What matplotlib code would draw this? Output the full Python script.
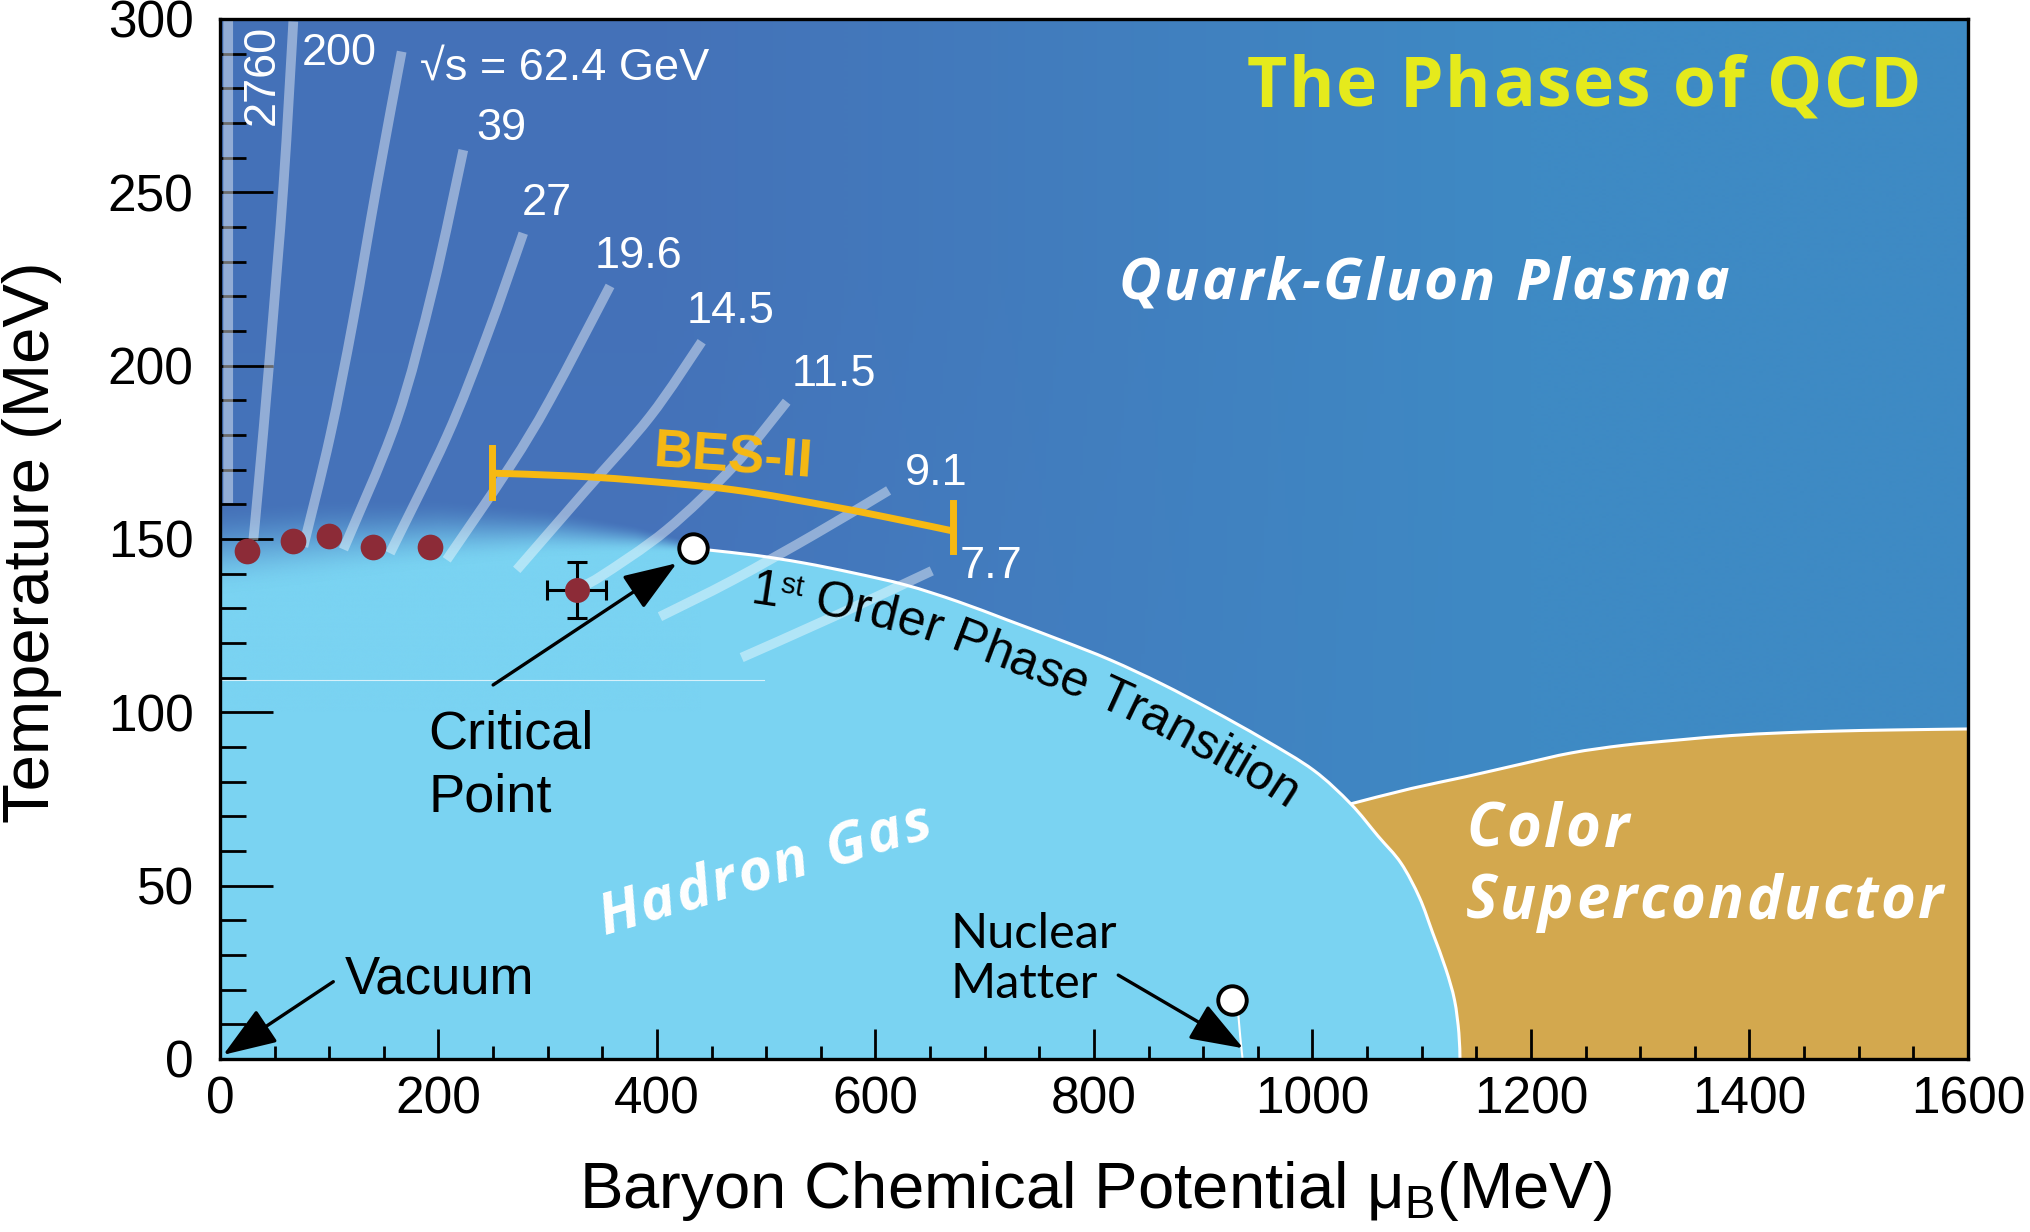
import numpy as np
import matplotlib
matplotlib.use('Agg')
import matplotlib.pyplot as plt
from matplotlib.patches import PathPatch
from matplotlib.path import Path
from matplotlib.font_manager import FontProperties
from matplotlib.transforms import IdentityTransform

plt.rcParams['font.family'] = ['Liberation Sans', 'DejaVu Sans']
plt.rcParams['mathtext.fontset'] = 'custom'
plt.rcParams['mathtext.rm'] = 'Liberation Sans'

# phase boundary hadron gas | QGP / CSC (from the critical point down to T = 0)
boundary_mu = [434, 448, 490, 534, 580, 628, 675, 721, 768, 815, 862, 908, 955,
               1001, 1035, 1060, 1081, 1098, 1110, 1122, 1130, 1134, 1135]
boundary_T = [147.5, 146.8, 145.3, 143.1, 140.2, 136.7, 132.0, 126.6, 121.0, 115.1,
              108.2, 100.6, 92.3, 83.3, 73.6, 64.3, 56.5, 46.5, 36.4, 26.0, 17.0, 7.5, 0]

# colour superconductor | QGP boundary
csc_mu = [1035, 1090, 1140, 1190, 1237, 1285, 1334, 1383, 1431, 1480, 1528, 1600]
csc_T = [73.6, 78.0, 81.4, 85.0, 88.3, 90.5, 92.0, 93.3, 94.1, 94.6, 94.9, 95.2]

# crossover band: centre and half width
cross_mu = [0, 100, 200, 300, 380, 434]
cross_T = [147, 150, 152, 152, 150, 147.5]
cross_w = [13, 12, 10, 7, 4, 1.5]

# chemical freeze-out points
freeze_mu = [24.4, 66.5, 100.0, 140.3, 192.2]
freeze_T = [146.4, 149.4, 150.9, 147.8, 147.8]
ep_mu, ep_T, ep_xerr, ep_yerr = 326.5, 135.3, 27, 8.2

crit_mu, crit_T = 433, 147.3
nuc_mu, nuc_T = 926, 17
nuc_line_mu = [932, 934, 936]
nuc_line_T = [13.2, 6, 0]

# beam energy trajectories
energy_labels = ['2760', '200', '√s = 62.4 GeV', '39', '27', '19.6', '14.5', '11.5', '9.1', '7.7']
traj_mu = [
    [7.5, 7.5],
    [67.1, 58.0, 45.8, 35.1, 30.5],
    [166.3, 143.4, 122.0, 100.7, 76.3],
    [222.7, 195.3, 161.7, 113.0],
    [277.6, 244.1, 207.5, 155.6],
    [357.0, 302.0, 265.4, 207.5],
    [440.9, 393.6, 332.5, 271.6],
    [518.7, 469.8, 408.8, 347.8, 329.5],
    [612.0, 546.2, 469.8, 402.7],
    [651.5, 561.5, 477.5],
]
traj_T = [
    [299.7, 160.4],
    [299.3, 251.7, 203.6, 165.1, 149.7],
    [290.6, 251.7, 213.2, 179.5, 147.8],
    [262.2, 222.8, 184.3, 147.0],
    [238.2, 208.4, 179.5, 145.9],
    [223.0, 190.1, 170.9, 144.0],
    [206.9, 185.3, 163.2, 141.1],
    [189.6, 170.9, 152.6, 139.1, 136.3],
    [164.0, 151.7, 138.2, 127.6],
    [140.8, 127.6, 115.8],
]
label_mu = [48.8, 74.8, 183, 235, 276, 343.2, 427.2, 523.3, 627, 677]
label_T = [269.5, 286.8, 282.4, 265.1, 243.5, 228.1, 212.2, 194.0, 165.6, 138.7]

# BES-II range
bes_mu = [249, 320, 378.3, 469.8, 561.4, 622.4, 671]
bes_T = [169.0, 168.2, 167.0, 164.2, 159.3, 155.5, 152.3]
bes_caps_mu = [249, 671]
bes_caps_T = [(162.2, 176.2), (146.4, 160.3)]

qgp_left = np.array([70, 116, 188]) / 255
qgp_right = np.array([62, 138, 196]) / 255
hg_color = '#7AD3F2'
csc_color = '#D3A84E'
dot_color = '#8C2B37'
bes_color = '#F7B912'


def smooth_segments(x, y):
    # Catmull-Rom through the read points, as cubic Bezier pieces
    P = np.column_stack([x, y]).astype(float)
    n = len(P)
    segs = []
    for i in range(n - 1):
        p0 = P[max(i - 1, 0)]
        p3 = P[min(i + 2, n - 1)]
        segs.append((P[i], P[i] + (P[i + 1] - p0) / 6, P[i + 1] - (p3 - P[i]) / 6, P[i + 1]))
    return segs


def segs_path(segs):
    verts = [segs[0][0]]
    codes = [Path.MOVETO]
    for a, c1, c2, b in segs:
        verts += [c1, c2, b]
        codes += [Path.CURVE4] * 3
    return verts, codes


def smooth_line(ax, x, y, **kw):
    v, c = segs_path(smooth_segments(x, y))
    ax.add_patch(PathPatch(Path(v, c), fill=False, **kw))


def sample_px(ax, segs, n=40):
    out = []
    t = np.linspace(0, 1, n, endpoint=False)[:, None]
    for seg in segs:
        a, c1, c2, b = [ax.transData.transform(p) for p in seg]
        out.append((1 - t) ** 3 * a + 3 * (1 - t) ** 2 * t * c1 + 3 * (1 - t) * t ** 2 * c2 + t ** 3 * b)
    out.append(ax.transData.transform(segs[-1][3])[None, :])
    return np.vstack(out)


def advances(renderer, s, fp):
    hh = renderer.get_text_width_height_descent('HH', fp, ismath=False)[0]
    return [renderer.get_text_width_height_descent('H' + c + 'H', fp, ismath=False)[0] - hh for c in s]


def tracked_text(ax, x, y, s, fp, tracking=0, angle=0, ha='center', **kw):
    renderer = ax.figure.canvas.get_renderer()
    adv = advances(renderer, s, fp)
    total = sum(adv) + tracking * (len(s) - 1)
    x0, y0 = ax.transData.transform((x, y))
    ux, uy = np.cos(np.radians(angle)), np.sin(np.radians(angle))
    pos = -total / 2 if ha == 'center' else 0
    for c, a in zip(s, adv):
        d = pos + a / 2
        ax.text(x0 + d * ux, y0 + d * uy, c, fontproperties=fp, rotation=angle,
                rotation_mode='anchor', ha='center', va='baseline',
                transform=IdentityTransform(), **kw)
        pos += a + tracking


def text_on_curve(ax, segs, pieces, start_mu, offset):
    line = sample_px(ax, segs)
    tan = np.gradient(line, axis=0)
    tan /= np.linalg.norm(tan, axis=1)[:, None]
    nrm = np.column_stack([tan[:, 1], -tan[:, 0]])
    base = line + offset * nrm
    s = np.concatenate([[0], np.cumsum(np.linalg.norm(np.diff(base, axis=0), axis=1))])
    x0 = ax.transData.transform((start_mu, 0))[0]
    pos = s[np.argmin(np.abs(base[:, 0] - x0))]
    renderer = ax.figure.canvas.get_renderer()
    for txt, size, rise in pieces:
        fp = FontProperties(family='Liberation Sans', size=size)
        for c, a in zip(txt, advances(renderer, txt, fp)):
            sc = pos + a / 2
            x = np.interp(sc, s, base[:, 0])
            y = np.interp(sc, s, base[:, 1])
            tx = np.interp(sc, s, tan[:, 0])
            ty = np.interp(sc, s, tan[:, 1])
            ang = np.degrees(np.arctan2(ty, tx))
            ax.text(x - rise * ty, y + rise * tx, c, fontproperties=fp, rotation=ang,
                    rotation_mode='anchor', ha='center', va='baseline',
                    transform=IdentityTransform(), zorder=4)
            pos += a


fig = plt.figure(figsize=(20.31, 12.32), dpi=100)
ax = fig.add_axes([220 / 2031, 1 - 1059 / 1232, 1748 / 2031, 1040 / 1232])
ax.set_xlim(0, 1600)
ax.set_ylim(0, 300)

# backgrounds
bg = np.array([[qgp_left, qgp_right], [qgp_left * 0.98, qgp_right]])
ax.imshow(bg, extent=[0, 1600, 0, 300], origin='lower', aspect='auto',
          interpolation='bilinear', zorder=0)

bsegs = smooth_segments(boundary_mu, boundary_T)
v, c = segs_path(bsegs)
hg_v = [(0, 0), (0, 130), (400, 130), (434, 146)] + v + [(0, 0)]
hg_c = [Path.MOVETO, Path.LINETO, Path.LINETO, Path.LINETO, Path.LINETO] + c[1:] + [Path.CLOSEPOLY]
ax.add_patch(PathPatch(Path(hg_v, hg_c), facecolor=hg_color, edgecolor='none', zorder=1))

csegs = smooth_segments(csc_mu, csc_T)
v, c = segs_path(csegs)
low = [(b, c2, c1, a) for a, c1, c2, b in bsegs[14:]][::-1]
cv = v + [(1600, 0), (1135, 0)]
cc = c + [Path.LINETO, Path.LINETO]
for a, c1, c2, b in low:
    cv += [c1, c2, b]
    cc += [Path.CURVE4] * 3
cv.append((0, 0))
cc.append(Path.CLOSEPOLY)
ax.add_patch(PathPatch(Path(cv, cc), facecolor=csc_color, edgecolor='none', zorder=1))

mu_g = np.linspace(0, 440, 441)
T_g = np.linspace(100, 185, 341)
M, TT = np.meshgrid(mu_g, T_g)
tc = np.interp(M, cross_mu, cross_T)
tw = np.interp(M, cross_mu, cross_w)
u = np.clip((TT - (tc - tw)) / (2 * tw), 0, 1)
rgba = np.zeros(M.shape + (4,))
rgba[..., :3] = matplotlib.colors.to_rgb(hg_color)
rgba[..., 3] = 1 - u * u * (3 - 2 * u)
ax.imshow(rgba, extent=[0, 440, 100, 185], origin='lower', aspect='auto',
          interpolation='bilinear', zorder=1.2)

ax.plot([0, 498], [109.3, 109.3], color='white', lw=0.8, alpha=0.7, zorder=1.5)
smooth_line(ax, boundary_mu, boundary_T, edgecolor='white', lw=2.2, zorder=1.6)
smooth_line(ax, csc_mu, csc_T, edgecolor='white', lw=2.2, zorder=1.6)
smooth_line(ax, nuc_line_mu, nuc_line_T, edgecolor='white', lw=1.5, zorder=1.6)

# energy trajectories
for m, t in zip(traj_mu, traj_T):
    smooth_line(ax, m, t, edgecolor='white', alpha=0.42, lw=7, capstyle='butt', zorder=3)
for i, (lab, m, t) in enumerate(zip(energy_labels, label_mu, label_T)):
    ax.text(m, t, lab, color='white', fontsize=32.5, rotation=90 if i == 0 else 0,
            rotation_mode='anchor', ha='left', va='baseline', zorder=4)

# BES-II
smooth_line(ax, bes_mu, bes_T, edgecolor=bes_color, lw=5, zorder=4)
for m, (t0, t1) in zip(bes_caps_mu, bes_caps_T):
    ax.plot([m, m], [t0, t1], color=bes_color, lw=5, zorder=4)
ax.text(469.8, 173.3, 'BES-II', color=bes_color, fontsize=39, fontweight='bold',
        rotation=-4, ha='center', va='center', zorder=4)

# points
ax.plot(freeze_mu, freeze_T, 'o', ms=18.5, color=dot_color, mec='none', zorder=5)
ax.errorbar(ep_mu, ep_T, xerr=ep_xerr, yerr=ep_yerr, fmt='o', ms=18, color=dot_color,
            mec='none', ecolor='black', elinewidth=2.2, capsize=7, capthick=2.2, zorder=5)
ax.plot(crit_mu, crit_T, 'o', ms=20.5, mfc='white', mec='black', mew=2.8, zorder=6)
ax.plot(nuc_mu, nuc_T, 'o', ms=20.5, mfc='white', mec='black', mew=2.8, zorder=6)

arrow = dict(arrowstyle='-|>,head_length=0.6,head_width=0.22', color='black', lw=2.4,
             mutation_scale=55, shrinkA=0, shrinkB=0)
ax.annotate('', xy=(418, 143), xytext=(250, 107.9), arrowprops=arrow, zorder=6)
ax.annotate('', xy=(3, 1.2), xytext=(103.7, 22.3), arrowprops=arrow, zorder=6)
ax.annotate('', xy=(936.6, 3.1), xytext=(822.2, 24.2), arrowprops=arrow, zorder=6)

# labels
ax.text(190.7, 89.6, 'Critical', fontsize=39, ha='left', va='baseline', zorder=4)
ax.text(190.7, 71.4, 'Point', fontsize=39, ha='left', va='baseline', zorder=4)
ax.text(114.4, 19.0, 'Vacuum', fontsize=38, ha='left', va='baseline', zorder=4)
ax.text(668.2, 31.9, 'Nuclear', fontsize=35, family=['Lato', 'DejaVu Sans'], ha='left', va='baseline', zorder=4)
ax.text(668.2, 17.5, 'Matter', fontsize=35, family=['Lato', 'DejaVu Sans'], ha='left', va='baseline', zorder=4)

phase_fp = FontProperties(family='Open Sans', weight='bold', style='italic', size=42)
tracked_text(ax, 502.7, 50, 'Hadron Gas', phase_fp, tracking=2.5, angle=16.6, color='white', zorder=4)
tracked_text(ax, 1101.8, 219, 'Quark-Gluon Plasma', phase_fp, tracking=2.5, color='white', zorder=4)
csc_fp = FontProperties(family='Open Sans', weight='bold', style='italic', size=43)
tracked_text(ax, 1140.5, 61.2, 'Color', csc_fp, tracking=3.4, ha='left', color='white', zorder=4)
tracked_text(ax, 1140.5, 40.6, 'Superconductor', csc_fp, tracking=2.3, ha='left', color='white', zorder=4)
title_fp = FontProperties(family='Open Sans', weight='bold', size=50)
tracked_text(ax, 1248.5, 274.7, 'The Phases of QCD', title_fp, tracking=2, color='#E5EA1C', zorder=4)

text_on_curve(ax, bsegs, [('1', 36, 0), ('st', 21, 15), (' Order Phase Transition', 36, 0)],
              start_mu=484, offset=48)

# axes styling
ax.set_xticks(np.arange(0, 1601, 200))
ax.set_xticks(np.arange(0, 1601, 50), minor=True)
ax.set_yticks(np.arange(0, 301, 50))
ax.set_yticks(np.arange(0, 301, 10), minor=True)
ax.tick_params(axis='both', which='both', direction='in', width=2, top=False, right=False, labelsize=37)
ax.tick_params(axis='x', which='major', length=21.6, pad=12)
ax.tick_params(axis='x', which='minor', length=9.6)
ax.tick_params(axis='y', which='major', length=38, pad=19)
ax.tick_params(axis='y', which='minor', length=19)
for sp in ax.spines.values():
    sp.set_linewidth(2.4)
    sp.set_zorder(7)

fig.text(1095.8 / 2031, 1 - 1208.3 / 1232, r'Baryon Chemical Potential μ$_\mathrm{B}$(MeV)',
         fontsize=47, ha='center', va='baseline')
fig.text(49 / 2031, 1 - 542 / 1232, 'Temperature (MeV)', fontsize=47, rotation=90,
         rotation_mode='anchor', ha='center', va='baseline')

fig.savefig('out.png', dpi=100)
